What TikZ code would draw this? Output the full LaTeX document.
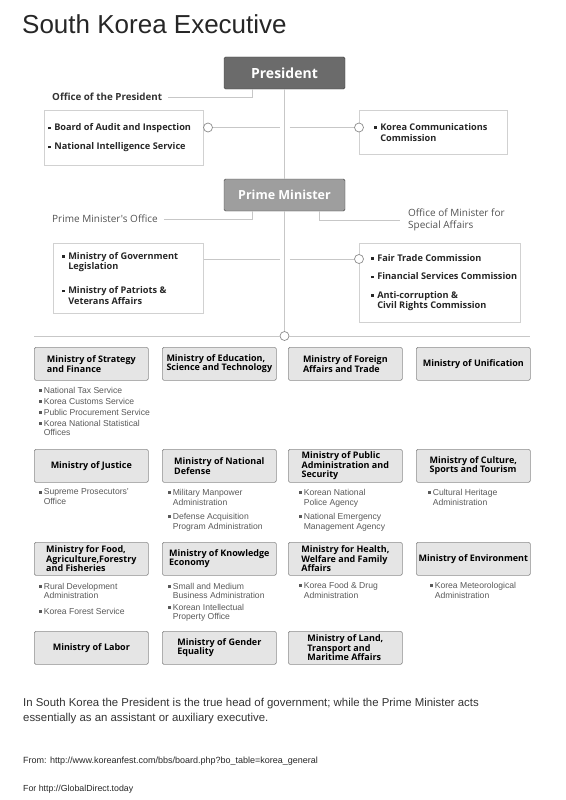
\documentclass[tikz,border=0pt]{standalone}
\usepackage{fontspec}
\setmainfont{Liberation Sans}
\newfontfamily\chartfont{Open Sans}
\usetikzlibrary{positioning,calc}

\newcommand{\sqb}{\rule[0.3ex]{2.6pt}{2.6pt}\hspace{3.5pt}}
\newcommand{\sqs}{\rule[0.25ex]{2.6pt}{2.6pt}\hspace{2pt}}
\newcommand{\indb}{\hphantom{\sqb}}
\newcommand{\inds}{\hphantom{\sqs}}

\tikzset{
  link/.style={draw=black!22, line width=0.9pt},
  knot/.style={circle, draw=black!45, fill=white, line width=0.7pt, minimum size=9pt, inner sep=0pt},
  headbox/.style={draw=black!75, fill=black!58, rounded corners=1.5pt, minimum width=121pt, minimum height=32pt, text=white, font=\chartfont\bfseries\fontsize{14}{16}\selectfont},
  office/.style={anchor=west, inner sep=0pt, align=left, text=black!68, font=\chartfont\fontsize{10}{11.5}\selectfont},
  unitbox/.style={draw=black!18, line width=0.7pt, anchor=north west},
  unitlist/.style={anchor=west, inner sep=0pt, align=left, text=black!85, font=\chartfont\bfseries\fontsize{9.2}{10.5}\selectfont},
  ministry/.style={draw=black!45, fill=black!10, rounded corners=1.5pt, line width=0.7pt, minimum width=114pt, minimum height=33pt, inner sep=1pt, anchor=north west, align=left, font=\chartfont\bfseries\fontsize{9}{9.5}\selectfont},
  agency/.style={anchor=north west, inner sep=0pt, align=left, text=black!65, font=\fontsize{8.6}{10}\selectfont},
}

\begin{document}
\begin{tikzpicture}[x=1pt,y=-1pt]
  \useasboundingbox (0,0) rectangle (565,800);
  \node[anchor=base west, inner sep=0pt, font=\fontsize{26}{30}\selectfont, text=black!85] (title) at (22,34) {South Korea Executive};

  % heads
  \node[headbox] (pres) at (284.5,73) {President};
  \node[headbox, fill=black!38, font=\chartfont\bfseries\fontsize{12.5}{15}\selectfont] (pm) at (284.5,195) {Prime Minister};
  \node[knot] (hub) at (284.5,336) {};
  \draw[link] (pres) -- (pm);
  \draw[link] (pm) -- (hub);

  % president's side
  \node[office, text=black!80, font=\chartfont\bfseries\fontsize{9.8}{11}\selectfont] (opres) at (52,97) {Office of the President};
  \draw[link] ([xshift=6pt]opres.east) -| ([xshift=-32pt]pres.south);
  \node[unitbox, minimum width=159pt, minimum height=55pt] (presl) at (44,110) {};
  \node[unitlist, right=4pt of presl.west] (presll) {\sqb Board of Audit and Inspection\\[8.5pt]\sqb National Intelligence Service};
  \node[unitbox, minimum width=148pt, minimum height=44pt] (presr) at (359,110) {};
  \node[unitlist, right=15pt of presr.west] (presrl) {\sqb Korea Communications\\\indb Commission};
  \node[knot] (kbai) at (208,127.5) {};
  \node[knot] (kkcc) at (presr.west |- kbai) {};
  \draw[link] (kbai) -- ([xshift=-5pt]kbai -| pres.south);
  \draw[link] ([xshift=5pt]kbai -| pres.south) -- (kkcc);

  % prime minister's side
  \node[office] (pmo) at (52,219) {Prime Minister's Office};
  \draw[link] ([xshift=6pt]pmo.east) -| ([xshift=-32pt]pm.south);
  \node[office] (spec) at (408,220) {Office of Minister for\\Special Affairs};
  \draw[link] ([xshift=35pt]pm.south) |- ([xshift=-8pt]spec.west);
  \node[unitbox, minimum width=150pt, minimum height=70pt] (pml) at (53,243) {};
  \node[unitlist, right=9pt of pml.west] (pmll) {\sqb Ministry of Government\\\indb Legislation\\[13.5pt]\sqb Ministry of Patriots \&\\\indb Veterans Affairs};
  \node[unitbox, minimum width=161pt, minimum height=79pt] (pmr) at (359,243) {};
  \node[unitlist, right=12pt of pmr.west] (pmrl) {\sqb Fair Trade Commission\\[8pt]\sqb Financial Services Commission\\[8pt]\sqb Anti-corruption \&\\\indb Civil Rights Commission};
  \node[knot] (kftc) at (359,259) {};
  \draw[link] (pml.east |- kftc) -- ([xshift=-5pt]kftc -| pm.south);
  \draw[link] ([xshift=5pt]kftc -| pm.south) -- (kftc);

  % ministries
  \coordinate (rowl) at (34,336);
  \coordinate (rowr) at (530,336);
  \draw[link] (rowl) -- (hub) -- (rowr);

  \node[ministry] (msf) at (34,347) {Ministry of Strategy\\and Finance};
  \node[ministry] (mest) at (162,347) {Ministry of Education,\\Science and Technology};
  \node[ministry] (mofat) at (288,347) {Ministry of Foreign\\Affairs and Trade};
  \node[ministry] (mou) at (416,347) {Ministry of Unification};

  \node[ministry] (moj) at (34,449) {Ministry of Justice};
  \node[ministry] (mnd) at (162,449) {Ministry of National\\Defense};
  \node[ministry] (mopas) at (288,449) {Ministry of Public\\Administration and\\Security};
  \node[ministry] (mcst) at (416,449) {Ministry of Culture,\\Sports and Tourism};

  \node[ministry] (mifaff) at (34,542) {Ministry for Food,\\Agriculture,Forestry\\and Fisheries};
  \node[ministry] (mke) at (162,542) {Ministry of Knowledge\\Economy};
  \node[ministry] (mhwf) at (288,542) {Ministry for Health,\\Welfare and Family\\Affairs};
  \node[ministry] (menv) at (416,542) {Ministry of Environment};

  \node[ministry] (mol) at (34,631) {Ministry of Labor};
  \node[ministry] (mogeq) at (162,631) {Ministry of Gender\\Equality};
  \node[ministry] (mltm) at (288,631) {Ministry of Land,\\Transport and\\Maritime Affairs};

  % agencies under the ministries
  \node[agency, font=\fontsize{8.6}{11}\selectfont] (msfa) at ([xshift=5pt,yshift=-6pt]msf.south west) {\sqs National Tax Service\\\sqs Korea Customs Service\\\sqs Public Procurement Service\\\sqs Korea National Statistical\\[-2pt]\inds Offices};
  \node[agency] (moja) at ([xshift=5pt,yshift=-6pt]moj.south west) {\sqs Supreme Prosecutors'\\\inds Office};
  \node[agency] (mnda) at ([xshift=6pt,yshift=-6pt]mnd.south west) {\sqs Military Manpower\\\inds Administration\\[4pt]\sqs Defense Acquisition\\\inds Program Administration};
  \node[agency] (mopasa) at ([xshift=11pt,yshift=-6pt]mopas.south west) {\sqs Korean National\\\inds Police Agency\\[4pt]\sqs National Emergency\\\inds Management Agency};
  \node[agency] (mcsta) at ([xshift=12pt,yshift=-6pt]mcst.south west) {\sqs Cultural Heritage\\\inds Administration};
  \node[agency] (mifaffa) at ([xshift=5pt,yshift=-7pt]mifaff.south west) {\sqs Rural Development\\[-1pt]\inds Administration\\[6pt]\sqs Korea Forest Service};
  \node[agency] (mkea) at ([xshift=6pt,yshift=-7pt]mke.south west) {\sqs Small and Medium\\[-1pt]\inds Business Administration\\[2pt]\sqs Korean Intellectual\\[-1pt]\inds Property Office};
  \node[agency] (mhwfa) at ([xshift=11pt,yshift=-6pt]mhwf.south west) {\sqs Korea Food \& Drug\\\inds Administration};
  \node[agency] (menva) at ([xshift=14pt,yshift=-6pt]menv.south west) {\sqs Korea Meteorological\\\inds Administration};

  % note and sources
  \node[anchor=north west, inner sep=0pt, align=left, text=black!80, font=\fontsize{11.4}{15}\selectfont] (note) at (23,698) {In South Korea the President is the true head of government; while the Prime Minister acts\\essentially as an assistant or auxiliary executive.};
  \node[anchor=base west, inner sep=0pt, text=black!85, font=\fontsize{9}{10}\selectfont] (src) at (23,763) {From: http://www.koreanfest.com/bbs/board.php?bo\_table=korea\_general};
  \node[anchor=base west, inner sep=0pt, text=black!85, font=\fontsize{8.8}{10}\selectfont] (via) at (23,791) {For http://GlobalDirect.today};
\end{tikzpicture}
\end{document}
